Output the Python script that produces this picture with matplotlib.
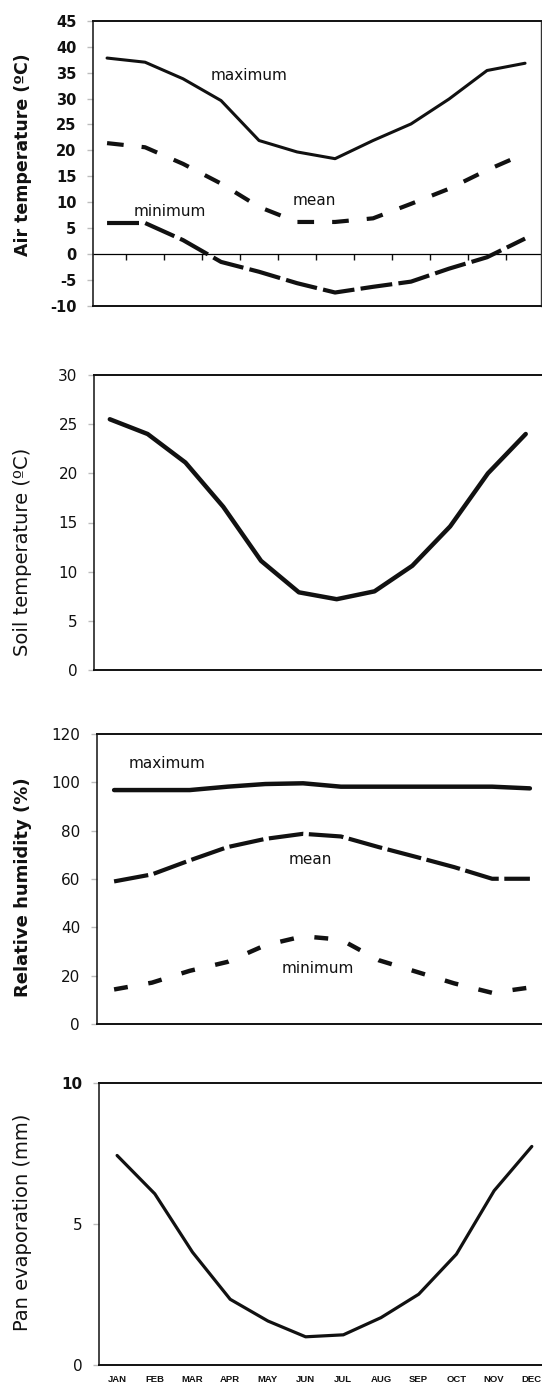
import matplotlib
matplotlib.use('Agg')
import matplotlib.pyplot as plt

plt.rcParams['font.family'] = ['DejaVu Sans']
plt.rcParams['lines.scale_dashes'] = False

# ---- data ----
months = ['JAN', 'FEB', 'MAR', 'APR', 'MAY', 'JUN', 'JUL', 'AUG', 'SEP', 'OCT', 'NOV', 'DEC']
air_max = [37.8, 37.0, 33.8, 29.6, 21.9, 19.7, 18.4, 21.9, 25.1, 29.9, 35.4, 36.8]
air_mean = [21.4, 20.6, 17.4, 13.6, 9.1, 6.2, 6.2, 6.9, 9.7, 12.6, 16.2, 19.4]
air_min = [6.0, 6.0, 2.7, -1.5, -3.4, -5.6, -7.4, -6.3, -5.3, -2.8, -0.6, 3.0]
soil_temp = [25.5, 24.0, 21.1, 16.6, 11.1, 7.9, 7.2, 8.0, 10.6, 14.6, 20.0, 24.0]
rh_max = [96.8, 96.8, 96.8, 98.2, 99.3, 99.6, 98.2, 98.2, 98.2, 98.2, 98.2, 97.5]
rh_mean = [59.0, 61.9, 67.7, 73.2, 76.6, 78.7, 77.6, 73.2, 69.1, 64.9, 60.1, 60.1]
rh_min = [14.3, 17.1, 22.0, 25.7, 32.6, 36.3, 34.9, 26.4, 21.6, 16.8, 12.9, 15.1]
pan_evap = [7.43, 6.07, 4.0, 2.33, 1.56, 1.0, 1.07, 1.68, 2.51, 3.93, 6.18, 7.75]

air_ticks = [-10, -5, 0, 5, 10, 15, 20, 25, 30, 35, 40, 45]
soil_ticks = [0, 5, 10, 15, 20, 25, 30]
rh_ticks = [0, 20, 40, 60, 80, 100, 120]
evap_ticks = [0, 5, 10]

W, H = 542, 1387
fig = plt.figure(figsize=(W / 100, H / 100), dpi=100)
fig.patch.set_facecolor('white')


def make_axes(left, top, bottom, right):
    return fig.add_axes([left / W, 1 - bottom / H, (right - left) / W, (bottom - top) / H])


x = list(range(len(months)))
ink = '#111111'


def style(ax, ticks, ylim, xlim, bold=False, right=False):
    ax.set_xlim(*xlim)
    ax.set_ylim(*ylim)
    ax.set_yticks(ticks)
    ax.set_yticklabels([str(t) for t in ticks],
                       fontsize=10.5 if bold else 11,
                       fontweight='bold' if bold else 'normal')
    ax.tick_params(axis='y', length=4, width=1, color='#bdbdbd', pad=8, labelcolor=ink)
    ax.set_xticks([])
    for s in ['top', 'bottom']:
        ax.spines[s].set_linewidth(1.4)
        ax.spines[s].set_color(ink)
    ax.spines['left'].set_linewidth(1.1)
    ax.spines['left'].set_color(ink)
    ax.spines['right'].set_visible(right)
    if right:
        ax.spines['right'].set_linewidth(1.0)
        ax.spines['right'].set_color('#333333')


# ---- panel 1: air temperature ----
ax1 = make_axes(93, 20.7, 306, 541)
style(ax1, air_ticks, (-10, 45), (-0.37, 11.42), bold=True, right=True)
ax1.plot(x, air_max, color=ink, lw=2.2, solid_capstyle='round')
l = ax1.plot(x, air_mean, color=ink, lw=3.0, dash_capstyle='butt')[0]
l.set_dashes((12, 13))
l = ax1.plot(x, air_min, color=ink, lw=3.0, dash_capstyle='butt')[0]
l.set_dashes((23, 4.5))
sec = ax1.secondary_xaxis(10 / 55)
sec.set_xticks([i + 0.5 for i in range(11)])
sec.set_xticklabels([])
sec.tick_params(length=4, width=1, color=ink, direction='out')
sec.spines['bottom'].set_linewidth(0.9)
ax1.text(3.73, 34.4, 'maximum', fontsize=11, ha='center', va='center', color=ink)
ax1.text(5.45, 10.4, 'mean', fontsize=11, ha='center', va='center', color=ink)
ax1.text(1.64, 8.3, 'minimum', fontsize=11, ha='center', va='center', color=ink)

# ---- panel 2: soil temperature ----
ax2 = make_axes(94.3, 375, 670, 542)
style(ax2, soil_ticks, (0, 30), (-0.41, 11.43))
ax2.plot(x, soil_temp, color=ink, lw=3.2, solid_capstyle='round')

# ---- panel 3: relative humidity ----
ax3 = make_axes(96.7, 734, 1024, 542)
style(ax3, rh_ticks, (0, 120), (-0.46, 11.32))
ax3.plot(x, rh_max, color=ink, lw=3.2, solid_capstyle='round')
l = ax3.plot(x, rh_mean, color=ink, lw=3.0, dash_capstyle='butt')[0]
l.set_dashes((25, 4))
l = ax3.plot(x, rh_min, color=ink, lw=3.2, dash_capstyle='butt')[0]
l.set_dashes((10, 15))
ax3.text(1.39, 107.6, 'maximum', fontsize=11, ha='center', va='center', color=ink)
ax3.text(5.2, 67.9, 'mean', fontsize=11, ha='center', va='center', color=ink)
ax3.text(5.4, 23, 'minimum', fontsize=11, ha='center', va='center', color=ink)

# ---- panel 4: pan evaporation ----
ax4 = make_axes(99, 1083, 1365, 542)
style(ax4, evap_ticks, (0, 10), (-0.48, 11.27))
ax4.get_yticklabels()[-1].set_fontweight('bold')
ax4.plot(x, pan_evap, color=ink, lw=2.3, solid_capstyle='round')
ax4.set_xticks(x)
ax4.set_xticklabels(months, fontsize=6.8, fontweight='bold',
                    family=['Liberation Sans', 'DejaVu Sans'])
ax4.tick_params(axis='x', length=0, pad=7, labelcolor=ink)

# ---- y labels ----
fig.text(23 / W, 1 - 155 / H, 'Air temperature (ºC)', rotation=90, ha='center', va='center',
         fontsize=12.5, fontweight='bold', color=ink)
fig.text(23 / W, 1 - 552 / H, 'Soil temperature (ºC)', rotation=90, ha='center', va='center',
         fontsize=14, color=ink)
fig.text(23 / W, 1 - 887 / H, 'Relative humidity (%)', rotation=90, ha='center', va='center',
         fontsize=13, fontweight='bold', color=ink)
fig.text(23 / W, 1 - 1222 / H, 'Pan evaporation (mm)', rotation=90, ha='center', va='center',
         fontsize=14, color=ink)

fig.savefig('out.png', dpi=100, facecolor='white')
